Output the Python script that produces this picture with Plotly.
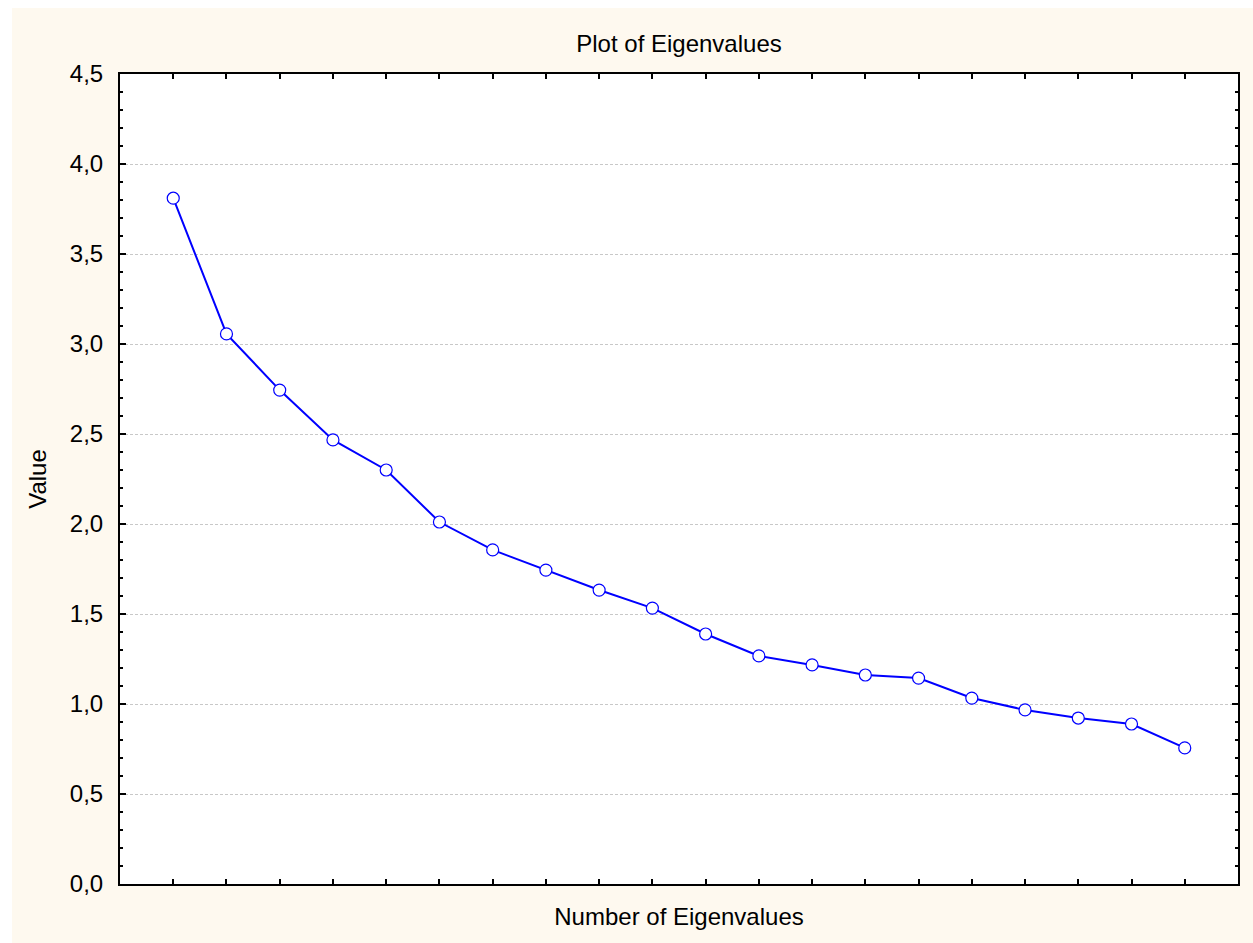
import plotly.graph_objects as go

components = list(range(1, 21))
eigenvalues = [3.81, 3.056, 2.744, 2.467, 2.30, 2.011, 1.856, 1.744, 1.633, 1.533,
               1.389, 1.267, 1.217, 1.161, 1.144, 1.033, 0.967, 0.922, 0.889, 0.756]
y_ticks = [0.0, 0.5, 1.0, 1.5, 2.0, 2.5, 3.0, 3.5, 4.0, 4.5]

FONT = "Liberation Sans, Arial, sans-serif"
CREAM = "#FEF9EF"
FS = 24

fig = go.Figure()
fig.add_trace(go.Scatter(
    x=components, y=eigenvalues, mode="lines+markers",
    line=dict(color="#0000FF", width=2),
    marker=dict(symbol="circle", size=12, color="white",
                line=dict(color="#0000FF", width=1.2)),
    showlegend=False, cliponaxis=False,
))

fig.update_layout(
    width=1253, height=943,
    margin=dict(l=120, r=15, t=74, b=59),
    paper_bgcolor=CREAM, plot_bgcolor="white",
    separators=",.",
    font=dict(family=FONT, size=FS, color="black"),
    title=dict(text="Plot of Eigenvalues", x=0.5, xref="paper",
               y=1 - 44 / 943, yref="container", yanchor="middle", xanchor="center",
               font=dict(size=FS)),
    shapes=[
        dict(type="rect", xref="paper", yref="paper", x0=-0.2, x1=(12 - 120) / 1118,
             y0=-0.2, y1=1.2, fillcolor="white", line=dict(width=0), layer="above"),
        dict(type="rect", xref="paper", yref="paper", x0=-0.2, x1=1.2,
             y0=(884 - 8) / 810, y1=1.2, fillcolor="white", line=dict(width=0), layer="above"),
    ],
)

fig.update_xaxes(
    range=[0, 21], tickvals=components, showticklabels=False,
    ticks="inside", ticklen=5, tickwidth=2, tickcolor="black",
    showline=True, linecolor="black", linewidth=2, mirror="allticks",
    showgrid=False, zeroline=False,
    title=dict(text="Number of Eigenvalues", standoff=23, font=dict(size=FS)),
)
fig.update_yaxes(
    range=[0, 4.5], tickvals=y_ticks, tickformat=".1f",
    ticks="inside", ticklen=6, tickwidth=2, tickcolor="black",
    ticklabelstandoff=10,
    showline=True, linecolor="black", linewidth=2, mirror="allticks",
    showgrid=True, gridcolor="#C8C8C8", gridwidth=1, griddash="3px,2px",
    zeroline=False,
    minor=dict(dtick=0.1, ticks="inside", ticklen=3, tickwidth=1.5, tickcolor="black", showgrid=False),
    title=dict(text="Value", standoff=16, font=dict(size=FS)),
)

fig.write_html("out.html")
